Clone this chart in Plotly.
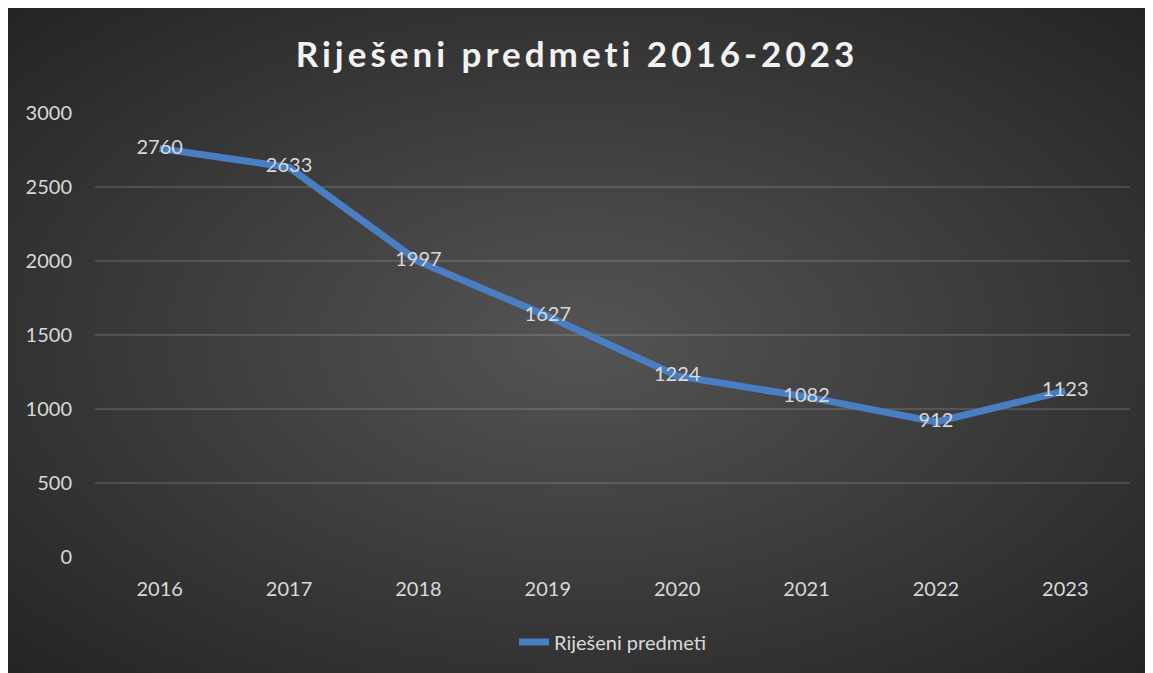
import base64
import plotly.graph_objects as go

years = ["2016", "2017", "2018", "2019", "2020", "2021", "2022", "2023"]
values = [2760, 2633, 1997, 1627, 1224, 1082, 912, 1123]
series_name = "Riješeni predmeti"
title_text = "Riješeni predmeti 2016-2023"
y_ticks = [0, 500, 1000, 1500, 2000, 2500, 3000]

# page body has an 8px margin, so the figure is sized to fit the window
W, H = 1145, 665
L, R, T, B = 87, 23, 105, 116
pw, ph = W - L - R, H - T - B

svg = (
    '<svg xmlns="http://www.w3.org/2000/svg" width="1147" height="666" viewBox="0 0 1147 666" preserveAspectRatio="none">'
    '<defs><radialGradient id="g" cx="50%" cy="50%" r="72%" fx="50%" fy="50%">'
    '<stop offset="0%" stop-color="#545454"/>'
    '<stop offset="100%" stop-color="#232323"/>'
    '</radialGradient></defs>'
    '<rect width="1147" height="666" fill="url(#g)"/></svg>'
)
src = "data:image/svg+xml;base64," + base64.b64encode(svg.encode()).decode()

x0px, y0px, x1px, y1px = -2, -1, W + 2, H + 2
img = dict(
    source=src, xref="paper", yref="paper",
    x=(x0px - L) / pw, y=(H - B - y0px) / ph,
    sizex=(x1px - x0px) / pw, sizey=(y1px - y0px) / ph,
    xanchor="left", yanchor="top", sizing="stretch", layer="below",
)

fig = go.Figure()
fig.add_trace(go.Scatter(
    x=years, y=values, name=series_name, mode="lines+text",
    line=dict(color="#4a7ec2", width=7),
    text=[str(v) for v in values], textposition="middle center",
    textfont=dict(family="Lato", size=20, color="#d9d9d9"),
))

fig.update_layout(
    width=W, height=H,
    margin=dict(l=L, r=R, t=T, b=B),
    paper_bgcolor="#262626", plot_bgcolor="rgba(0,0,0,0)",
    images=[img],
    title=dict(
        text='<span style="letter-spacing:4px">' + "<b>" + title_text + "</b></span>",
        x=569 / W, xref="container", xanchor="center", y=1 - 47 / H, yanchor="middle",
        font=dict(family="Lato", size=35, color="#f2f2f2"),
    ),
    font=dict(family="Lato", size=20, color="#d9d9d9"),
    showlegend=True,
    legend=dict(orientation="h", x=0.5, xanchor="center", y=(H - B - 634) / ph, yanchor="middle",
                bgcolor="rgba(0,0,0,0)", font=dict(family="Lato", size=20, color="#d9d9d9")),
    xaxis=dict(type="category", range=[-0.5, 7.5], showgrid=False, showline=False, zeroline=False,
               ticks="", ticklabelstandoff=18, tickfont=dict(family="Lato", size=20, color="#d9d9d9")),
    yaxis=dict(range=[0, 3000], tickvals=y_ticks, showgrid=True, gridcolor="rgba(255,255,255,0.13)",
               gridwidth=2, zeroline=False, showline=False, ticks="", ticklabelstandoff=22,
               tickfont=dict(family="Lato", size=20, color="#d9d9d9")),
)

fig.write_html("out.html")
